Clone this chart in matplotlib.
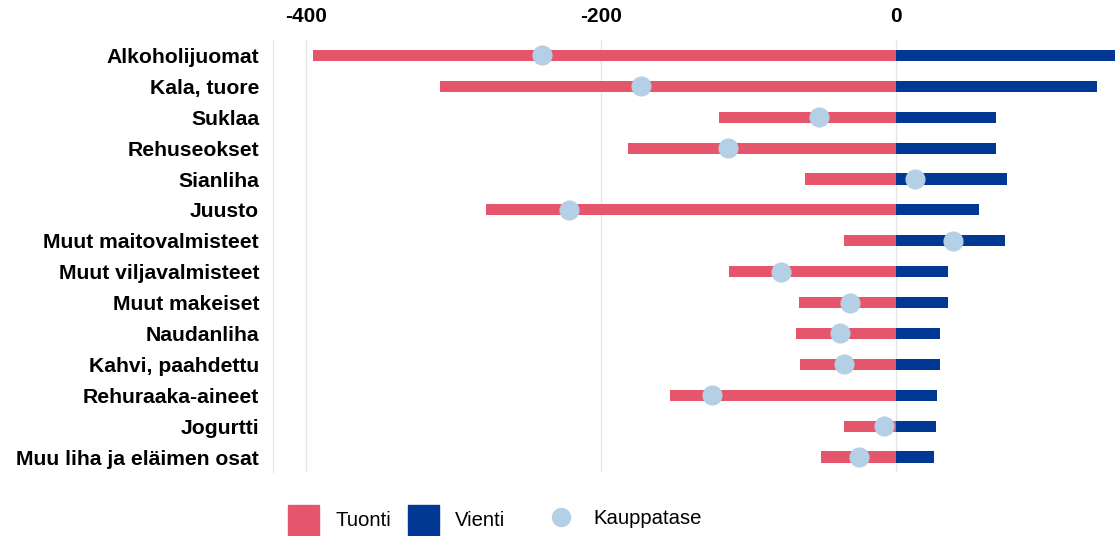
import matplotlib.pyplot as plt
import numpy as np
from matplotlib.patches import Patch
from matplotlib.lines import Line2D

plt.rcParams['font.family'] = ['Liberation Sans', 'DejaVu Sans']

# data (milj. euroa)
categories = ['Alkoholijuomat', 'Kala, tuore', 'Suklaa', 'Rehuseokset', 'Sianliha',
              'Juusto', 'Muut maitovalmisteet', 'Muut viljavalmisteet', 'Muut makeiset',
              'Naudanliha', 'Kahvi, paahdettu', 'Rehuraaka-aineet', 'Jogurtti',
              'Muu liha ja eläimen osat']
tuonti = [-395, -309, -120, -182, -62, -278, -35, -113, -66, -68, -65, -153, -35, -51]
vienti = [155, 136, 68, 68, 75, 56, 74, 35, 35, 30, 30, 28, 27, 26]
kauppatase = [t + v for t, v in zip(tuonti, vienti)]

c_tuonti = '#e5566c'
c_vienti = '#003893'
c_tase = '#b4d0e6'

fig = plt.figure(figsize=(11.15, 5.36), dpi=100)
ax = fig.add_axes([0.2448, 0.1185, 0.7552, 0.8069])

y = np.arange(len(categories))
ax.barh(y, tuonti, height=0.36, color=c_tuonti, zorder=2)
ax.barh(y, vienti, height=0.36, color=c_vienti, zorder=2)
ax.plot(kauppatase, y, 'o', color=c_tase, markersize=13.5, zorder=3)

ax.set_xlim(-422.4, 148.5)
ax.set_ylim(len(categories) - 0.5, -0.5)
ax.set_xticks([-400, -200, 0])
ax.set_xticklabels(['-400', '-200', '0'], fontsize=15, fontweight='bold')
ax.xaxis.tick_top()
ax.tick_params(axis='x', length=0, pad=10)
ax.set_yticks(y)
ax.set_yticklabels(categories, fontsize=15.2, fontweight='bold')
ax.tick_params(axis='y', length=0, pad=10)
ax.grid(axis='x', color='#e6e6e6', linewidth=1, zorder=0)
for s in ['top', 'right', 'bottom']:
    ax.spines[s].set_visible(False)
ax.spines['left'].set_color('#e6e6e6')

h1 = [Patch(color=c_tuonti, label='Tuonti'), Patch(color=c_vienti, label='Vienti')]
fig.legend(handles=h1, loc='center left', bbox_to_anchor=(0.2583, 0.03), ncol=2,
           frameon=False, fontsize=14.6, handlelength=1.55, handleheight=1.9,
           handletextpad=0.8, columnspacing=0.8, borderpad=0, borderaxespad=0)
h2 = [Line2D([], [], marker='o', linestyle='', color=c_tase, markersize=13, label='Kauppatase')]
fig.legend(handles=h2, loc='center left', bbox_to_anchor=(0.489, 0.033), frameon=False,
           fontsize=14.6, handlelength=1.55, handletextpad=0.8, borderpad=0, borderaxespad=0)

fig.savefig('out.png', dpi=100)
